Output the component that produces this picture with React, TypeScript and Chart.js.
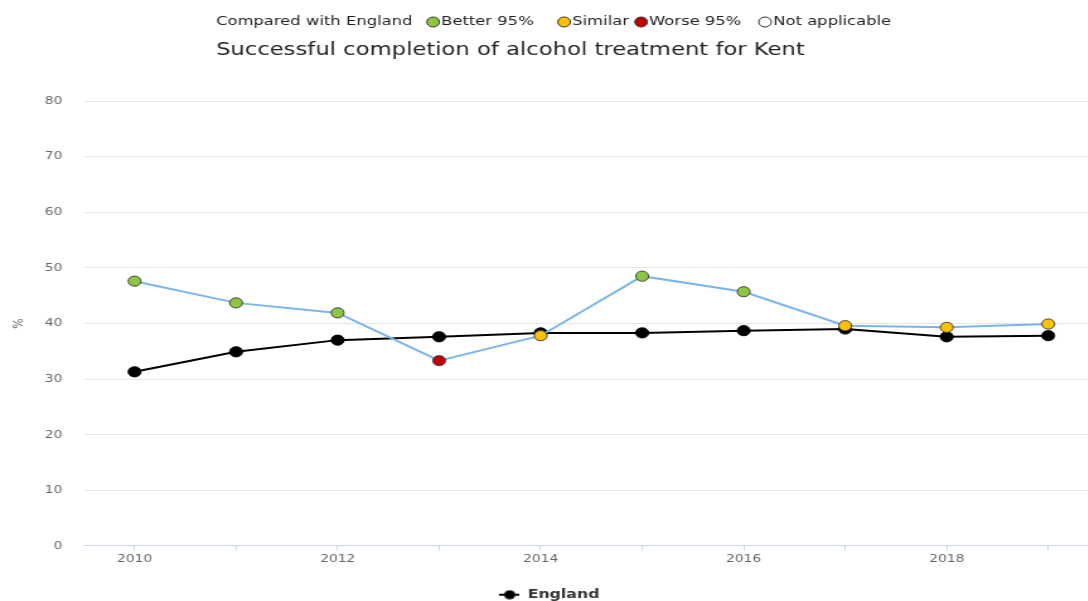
import React, { useEffect, useRef } from "react";
import { Chart, registerables } from "chart.js";

Chart.register(...registerables);

const years = ["2010", "2011", "2012", "2013", "2014", "2015", "2016", "2017", "2018", "2019"];
const kentValues = [47.6, 43.7, 41.9, 33.3, 37.8, 48.5, 45.7, 39.6, 39.3, 39.9];
const englandValues = [31.3, 34.9, 37.0, 37.6, 38.3, 38.3, 38.7, 39.0, 37.6, 37.8];
const kentComparison = ["better", "better", "better", "worse", "similar", "better", "better", "similar", "similar", "similar"];
const yTicks = [0, 10, 20, 30, 40, 50, 60, 70, 80];
const headerItems = ["Better 95%", "Similar", "Worse 95%", "Not applicable"];
const headerKeys = ["better", "similar", "worse", "na"];

const compareColors: Record<string, string> = {
  better: "#8DC63F",
  similar: "#FFC000",
  worse: "#C00000",
  na: "#FFFFFF",
};

// the reference is horizontally stretched; draw narrower and scale with CSS
const SX = 1.26;
const INNER_W = 872;
const INNER_H = 601;

const FONT = "'DejaVu Sans', sans-serif";

const headerPlugin = {
  id: "header",
  afterDraw(chart: any) {
    const ctx = chart.ctx;
    ctx.save();
    ctx.textBaseline = "middle";
    ctx.textAlign = "left";
    ctx.fillStyle = "#222";
    ctx.font = `13px ${FONT}`;
    const y = 22;
    ctx.fillText("Compared with England", 171.4, y);
    const circleX = [343.7, 447.6, 508.7, 607];
    const textX = [350, 454, 515, 613.5];
    headerItems.forEach((label, i) => {
      ctx.beginPath();
      ctx.arc(circleX[i], y, 5, 0, Math.PI * 2);
      ctx.fillStyle = compareColors[headerKeys[i]];
      ctx.fill();
      ctx.lineWidth = 1;
      ctx.strokeStyle = "#333";
      ctx.stroke();
      ctx.fillStyle = "#222";
      ctx.fillText(label, textX[i], y);
    });
    ctx.font = `18px ${FONT}`;
    ctx.fillStyle = "#222";
    ctx.fillText("Successful completion of alcohol treatment for Kent", 171.4, 50.5);
    ctx.restore();
  },
};

function makeLegendMarker(): HTMLCanvasElement {
  const c = document.createElement("canvas");
  c.width = 16;
  c.height = 10;
  const g = c.getContext("2d")!;
  g.strokeStyle = "#000";
  g.lineWidth = 2;
  g.beginPath();
  g.moveTo(0, 5);
  g.lineTo(16, 5);
  g.stroke();
  g.fillStyle = "#000";
  g.beginPath();
  g.arc(8, 5, 4.5, 0, Math.PI * 2);
  g.fill();
  return c;
}

export default function App() {
  const ref = useRef<HTMLCanvasElement>(null);
  useEffect(() => {
    if (!ref.current) return;
    const marker = makeLegendMarker();
    const chart = new Chart(ref.current, {
      type: "line",
      data: {
        labels: years,
        datasets: [
          {
            label: "Kent",
            data: kentValues,
            borderColor: "#7CB5EC",
            borderWidth: 2,
            pointRadius: 5.1,
            pointStyle: "circle",
            pointBackgroundColor: kentComparison.map((c) => compareColors[c]),
            pointBorderColor: "#444",
            pointBorderWidth: 1,
            tension: 0,
            order: 0,
          },
          {
            label: "England",
            data: englandValues,
            borderColor: "#000000",
            backgroundColor: "#000000",
            borderWidth: 2,
            pointRadius: 5.1,
            pointStyle: "circle",
            pointBackgroundColor: "#000000",
            pointBorderColor: "#000000",
            pointBorderWidth: 1,
            tension: 0,
            order: 1,
          },
        ],
      },
      options: {
        animation: false,
        responsive: false,
        devicePixelRatio: 1,
        layout: { autoPadding: false, padding: { top: 101, left: 0, right: 0, bottom: -10 } },
        plugins: {
          title: { display: false },
          tooltip: { enabled: false },
          legend: {
            display: true,
            position: "bottom",
            labels: {
              generateLabels: () => [
                {
                  text: "England",
                  fillStyle: "#000",
                  strokeStyle: "#000",
                  lineWidth: 0,
                  pointStyle: marker,
                  hidden: false,
                  datasetIndex: 1,
                  fontColor: "#333",
                },
              ],
              usePointStyle: true,
              pointStyleWidth: 16,
              padding: 4,
              color: "#333",
              font: { family: FONT, size: 12.5, weight: "bold" },
            },
          },
        },
        scales: {
          x: {
            offset: true,
            afterFit: (s: any) => {
              s.height = 38.6;
            },
            grid: {
              display: true,
              drawOnChartArea: false,
              drawTicks: true,
              tickLength: 5,
              color: "#CCD6EB",
              offset: false,
            },
            border: { display: true, color: "#CCD6EB", width: 1 },
            ticks: {
              autoSkip: false,
              maxRotation: 0,
              padding: 2,
              color: "#666",
              font: { family: FONT, size: 11 },
              callback: (_v: any, i: number) => (i % 2 === 0 ? years[i] : ""),
            },
          },
          y: {
            min: 0,
            max: 80,
            afterFit: (s: any) => {
              s.width = 66.5;
            },
            afterBuildTicks: (s: any) => {
              s.ticks = yTicks.map((v) => ({ value: v }));
            },
            grid: { color: "#E6E6E6", drawTicks: false },
            border: { display: false },
            ticks: {
              padding: 17,
              color: "#666",
              font: { family: FONT, size: 11 },
            },
            title: {
              display: true,
              text: "%",
              color: "#666",
              font: { family: FONT, size: 11 },
              padding: { top: 9, bottom: 0 },
            },
          },
        },
      },
      plugins: [headerPlugin],
    });
    return () => chart.destroy();
  }, []);
  return (
    <div style={{ position: "absolute", left: 0, top: 0, width: 1088, height: 601, overflow: "hidden", background: "#fff" }}>
      <canvas
        ref={ref}
        width={INNER_W}
        height={INNER_H}
        style={{ display: "block", width: `${INNER_W * SX}px`, height: `${INNER_H}px` }}
      />
    </div>
  );
}
